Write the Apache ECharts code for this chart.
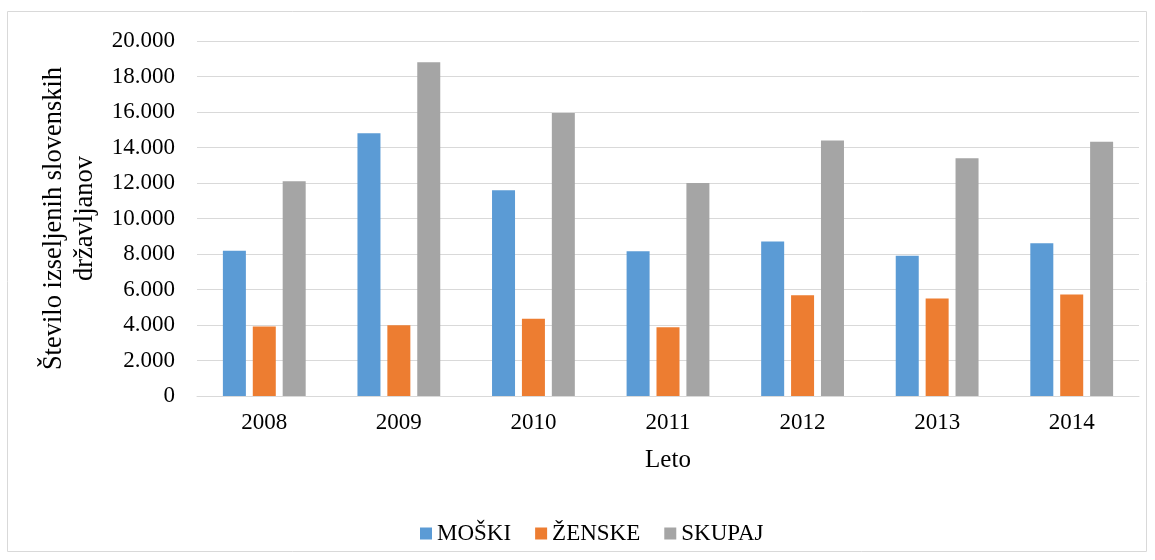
<!DOCTYPE html>
<html><head><meta charset="utf-8">
<script src="https://cdn.jsdelivr.net/npm/echarts@6/dist/echarts.min.js"></script>
<style>html,body{margin:0;padding:0;background:#fff}#c{width:1155px;height:560px}</style>
</head><body><div id="c"></div>
<script>
const categories = ['2008','2009','2010','2011','2012','2013','2014'];
const moski  = [8180, 14800, 11590, 8160, 8700, 7900, 8610];
const zenske = [3920, 3980, 4350, 3870, 5680, 5500, 5720];
const skupaj = [12100, 18800, 15940, 12000, 14390, 13390, 14330];
const seriesNames = ['MOŠKI', 'ŽENSKE', 'SKUPAJ'];
const colors = ['#5B9BD5', '#ED7D31', '#A5A5A5'];
const yTicks = { min: 0, max: 20000, interval: 2000 };

const font = 'Liberation Serif, Times New Roman, serif';
const chart = echarts.init(document.getElementById('c'), null, {renderer:'canvas'});
const mk = (name, data, i) => ({
  name, type: 'bar', data,
  barWidth: 23, barGap: '30%',
  itemStyle: { color: colors[i] },
  emphasis: { disabled: true }
});
chart.setOption({
  animation: false,
  textStyle: { fontFamily: font },
  graphic: [{ type: 'rect', shape: { x: 7.5, y: 11.5, width: 1139, height: 540 },
    style: { fill: 'none', stroke: '#d9d9d9', lineWidth: 1 }, silent: true }],
  grid: { left: 197, right: 16, top: 41, bottom: 164, containLabel: false },
  xAxis: {
    type: 'category', data: categories,
    axisLine: { lineStyle: { color: '#d9d9d9', width: 1 } },
    axisTick: { show: false },
    axisLabel: { color: '#000', fontSize: 23, fontFamily: font, margin: 15 },
    name: 'Leto', nameLocation: 'middle', nameGap: 52,
    nameTextStyle: { color: '#000', fontSize: 25, fontFamily: font }
  },
  yAxis: {
    type: 'value', min: yTicks.min, max: yTicks.max, interval: yTicks.interval,
    axisLine: { show: false }, axisTick: { show: false },
    splitLine: { lineStyle: { color: '#d9d9d9', width: 1 } },
    axisLabel: { color: '#000', fontSize: 23, fontFamily: font, margin: 22,
      formatter: v => v === 0 ? '0' : (v/1000).toFixed(0) + '.000' },
    name: 'Število izseljenih slovenskih\ndržavljanov', nameLocation: 'middle', nameGap: 91,
    nameRotate: 90,
    nameTextStyle: { color: '#000', fontSize: 26.5, fontFamily: font, lineHeight: 31, align: 'center' }
  },
  legend: {
    data: seriesNames, top: 517, left: 415,
    icon: 'rect', itemWidth: 12, itemHeight: 12, itemGap: 24,
    textStyle: { color: '#000', fontSize: 23, fontFamily: font }
  },
  series: [mk(seriesNames[0], moski, 0), mk(seriesNames[1], zenske, 1), mk(seriesNames[2], skupaj, 2)]
});
</script></body></html>
